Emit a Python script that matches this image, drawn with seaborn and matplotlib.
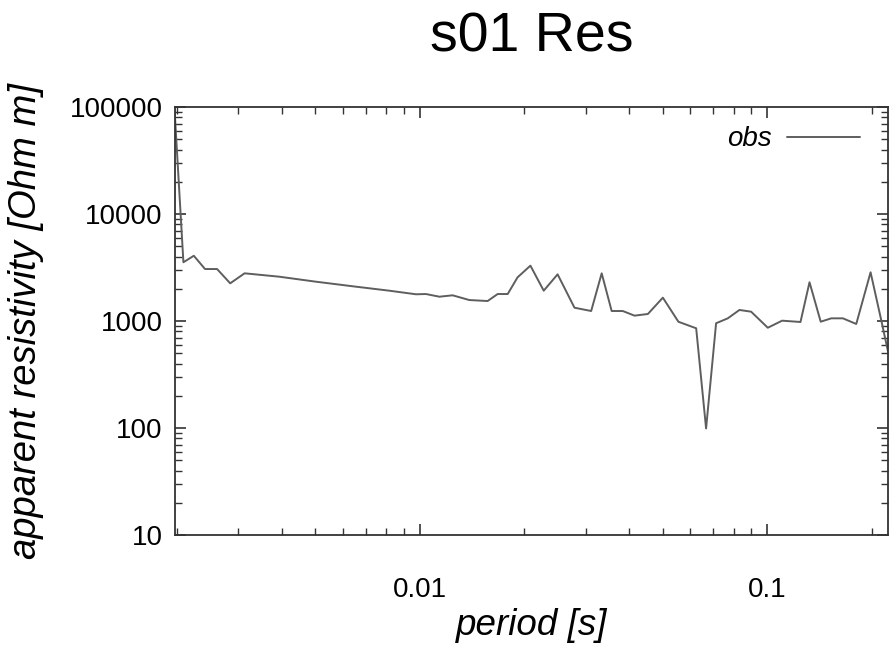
import matplotlib
matplotlib.use("Agg")
import matplotlib.pyplot as plt
import seaborn as sns
import pandas as pd
from matplotlib.ticker import LogLocator, FixedLocator, NullFormatter

sns.set_theme(style="white")
plt.rcParams['font.family'] = ['Liberation Sans', 'DejaVu Sans']
plt.rcParams['text.color'] = 'black'
plt.rcParams['axes.labelcolor'] = 'black'

period = [0.001953, 0.002083, 0.002232, 0.002404, 0.002604, 0.002841, 0.003125,
          0.003931, 0.005015, 0.006540, 0.008156, 0.00974, 0.01040, 0.01137,
          0.01242, 0.01387, 0.01566, 0.01674, 0.01789, 0.01910, 0.02080,
          0.02272, 0.02491, 0.02786, 0.03112, 0.03337, 0.03565, 0.03837,
          0.04148, 0.04533, 0.05006, 0.05550, 0.06244, 0.06668, 0.07126,
          0.07700, 0.08318, 0.08989, 0.1004, 0.1104, 0.1247, 0.1324, 0.1426,
          0.1529, 0.1652, 0.1805, 0.1985, 0.2130, 0.2228]
rho_obs = [130000, 3540, 4070, 3060, 3060, 2250, 2790,
           2595, 2330, 2093, 1920, 1777, 1787, 1687,
           1738, 1570, 1537, 1787, 1787, 2559, 3290,
           1920, 2730, 1331, 1240, 2790, 1240, 1240,
           1122, 1163, 1652, 984, 855, 99, 953,
           1059, 1268, 1222, 865, 1007, 979, 2302, 985,
           1059, 1059, 938, 2852, 1020, 520]

title = "s01 Res"
xlabel = "period [s]"
ylabel = "apparent resistivity [Ohm m]"
series_name = "obs"
ytick_vals = [10, 100, 1000, 10000, 100000]
ytick_labels = ["10", "100", "1000", "10000", "100000"]
xtick_vals = [0.01, 0.1]
xtick_labels = ["0.01", "0.1"]

df = pd.DataFrame({"period": period, "rho": rho_obs})

fig = plt.figure(figsize=(8.92, 6.48), dpi=100)
ax = fig.add_axes([175/892, 1-535/648, (888-175)/892, (535-107)/648])

sns.lineplot(data=df, x="period", y="rho", ax=ax, color="#5e5e5e", lw=1.4,
             label=series_name, sort=False, estimator=None)

ax.set_xscale("log")
ax.set_yscale("log")
ax.set_xlim(0.00197, 0.2228)
ax.set_ylim(10, 100000)

ax.yaxis.set_major_locator(FixedLocator(ytick_vals))
ax.set_yticklabels(ytick_labels)
ax.xaxis.set_major_locator(FixedLocator(xtick_vals))
ax.set_xticklabels(xtick_labels)
ax.xaxis.set_minor_locator(LogLocator(base=10, subs=range(2, 10), numticks=20))
ax.yaxis.set_minor_locator(LogLocator(base=10, subs=range(2, 10), numticks=20))
ax.xaxis.set_minor_formatter(NullFormatter())
ax.yaxis.set_minor_formatter(NullFormatter())

for s in ax.spines.values():
    s.set_color("#333333")
    s.set_linewidth(1.3)

ax.tick_params(which="both", direction="in", top=True, right=True, bottom=True, left=True,
               color="#333333", labelsize=20, labelcolor="black")
ax.tick_params(which="major", length=8, width=1.2)
ax.tick_params(which="minor", length=5, width=1.0)
ax.tick_params(axis="x", which="major", pad=30)
ax.tick_params(axis="y", which="major", pad=9)

ax.set_xlabel(xlabel, fontsize=26.5, fontstyle="italic", labelpad=4)
ax.set_ylabel(ylabel, fontsize=27.5, fontstyle="italic", labelpad=18)
fig.text((175+888)/2/892, 1-38/648, title, fontsize=40, ha="center", va="center",
         color="black")

leg = ax.legend(loc="upper right", frameon=False, markerfirst=False,
                handlelength=2.63, handletextpad=0.55, borderaxespad=0.3,
                bbox_to_anchor=(1 - 9/713, 1.0),
                prop={"style": "italic", "size": 20})

fig.savefig("out.png", dpi=100)
